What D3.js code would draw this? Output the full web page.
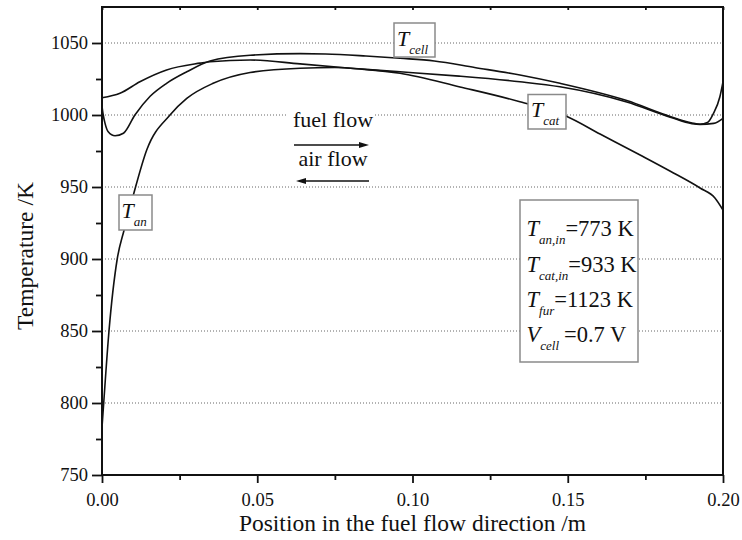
<!DOCTYPE html>
<html>
<head>
<meta charset="utf-8">
<script src="https://cdn.jsdelivr.net/npm/d3@7"></script>
<style>
  html, body { margin: 0; padding: 0; background: #fff; }
  svg { display: block; }
  text { font-family: "Liberation Serif", "Times New Roman", serif; fill: #111; }
</style>
</head>
<body>
<svg id="chart" width="742" height="540"></svg>
<script>
// Temperature profiles along the cell (position in m, temperature in K)
const posCell = [0, 0.0004, 0.001, 0.002, 0.0042, 0.0069, 0.0106, 0.0155, 0.0208, 0.0273, 0.0348, 0.0477, 0.0638, 0.072, 0.085, 0.096, 0.107, 0.12, 0.1346, 0.1475, 0.169, 0.183, 0.19, 0.1926, 0.195, 0.1969, 0.199, 0.2];
const tCell   = [1006, 1000, 994, 988.4, 985.6, 987.3, 1000, 1013, 1022, 1030, 1037.5, 1041.5, 1042.6, 1042.4, 1041, 1039.4, 1037.5, 1033, 1027.8, 1022, 1010, 999, 994.5, 993.6, 994.8, 1001, 1012.7, 1023];

const posCat = [0, 0.0058, 0.0122, 0.0208, 0.0316, 0.0348, 0.0477, 0.0638, 0.08, 0.096, 0.1153, 0.1346, 0.1494, 0.1604, 0.1733, 0.1829, 0.1926, 0.1974, 0.2];
const tCat   = [1012, 1015.1, 1023.1, 1031.3, 1036, 1037, 1038.2, 1035.5, 1032.5, 1029, 1019.5, 1009.2, 999.3, 986.8, 972.2, 961.1, 949.3, 942.4, 934];

const posAn = [0, 0.00055, 0.00225, 0.0049, 0.0071, 0.0101, 0.0144, 0.0219, 0.0273, 0.0358, 0.0477, 0.0638, 0.075, 0.086, 0.096, 0.115, 0.1346, 0.1475, 0.169, 0.183, 0.19, 0.1926, 0.197, 0.2];
const tAn   = [783, 800, 850, 900, 920, 944.4, 975.7, 1000, 1011.5, 1022, 1029.5, 1032.5, 1033, 1031.5, 1030, 1027, 1023.1, 1019.6, 1009, 998.5, 994, 993.5, 994.2, 997.7];

// Axis ticks
const xMajor = [0, 0.05, 0.10, 0.15, 0.20];
const xMinor = [0.025, 0.075, 0.125, 0.175];
const yMajor = [750, 800, 850, 900, 950, 1000, 1050];
const yMinor = [775, 825, 875, 925, 975, 1025];
const gridValues = [800, 850, 900, 950, 1000, 1050];

// Operating conditions listed in the box
const condSymbols = ["T", "T", "T", "V"];
const condSubs    = ["an,in", "cat,in", "fur", "cell"];
const condValues  = ["=773 K", "=933 K", "=1123 K", "=0.7 V"];

const svg = d3.select("#chart");
const margin = {left: 102, top: 7, right: 19, bottom: 65};
const W = 742 - margin.left - margin.right;
const H = 540 - margin.top - margin.bottom;

const x = d3.scaleLinear().domain([0, 0.2]).range([0, W]);
const y = d3.scaleLinear().domain([750, 1075]).range([H, 0]);

const g = svg.append("g").attr("transform", `translate(${margin.left},${margin.top})`);

// dotted horizontal grid
g.append("g").selectAll("line").data(gridValues).join("line")
  .attr("x1", 0).attr("x2", W)
  .attr("y1", d => y(d)).attr("y2", d => y(d))
  .attr("stroke", "#666").attr("stroke-width", 1)
  .attr("stroke-dasharray", "1,2");

// curves
const line = (px, py) => d3.line()
  .x((d, i) => x(px[i])).y(d => y(d))
  .curve(d3.curveMonotoneX)(py);

[[posCat, tCat], [posAn, tAn], [posCell, tCell]].forEach(([px, py]) => {
  g.append("path")
    .attr("d", line(px, py))
    .attr("fill", "none").attr("stroke", "#111")
    .attr("stroke-width", 1.6);
});

// axes
const yAxis = g.append("g").call(d3.axisLeft(y).tickValues(yMajor).tickSize(10).tickPadding(4).tickFormat(d3.format("d")));
const yAxisMinor = g.append("g").call(d3.axisLeft(y).tickValues(yMinor).tickSize(6).tickFormat(""));
const xAxis = g.append("g").attr("transform", `translate(0,${H})`)
  .call(d3.axisBottom(x).tickValues(xMajor).tickSize(8).tickPadding(10).tickFormat(d3.format(".2f")));
const xAxisMinor = g.append("g").attr("transform", `translate(0,${H})`)
  .call(d3.axisBottom(x).tickValues(xMinor).tickSize(5).tickFormat(""));
const xAxisTop = g.append("g")
  .call(d3.axisBottom(x).tickValues(xMajor.concat(xMinor)).tickSize(3).tickFormat(""));

[yAxis, yAxisMinor, xAxis, xAxisMinor, xAxisTop].forEach(a => {
  a.select(".domain").remove();
  a.selectAll(".tick line").attr("stroke", "#111").attr("stroke-width", 1.8);
  a.selectAll(".tick text").style("font-family", '"Liberation Serif", "Times New Roman", serif')
    .style("font-size", "18.5px").attr("fill", "#111");
});

// frame
g.append("rect").attr("x", 0).attr("y", 0).attr("width", W).attr("height", H)
  .attr("fill", "none").attr("stroke", "#111").attr("stroke-width", 2);

// axis titles
svg.append("text")
  .attr("x", margin.left + W / 2).attr("y", 531)
  .attr("text-anchor", "middle").style("font-size", "23.5px")
  .text("Position in the fuel flow direction /m");
svg.append("text")
  .attr("transform", "translate(33,256) rotate(-90)")
  .attr("text-anchor", "middle").style("font-size", "23.5px")
  .text("Temperature /K");

// symbol with subscript
function symbolText(parent, px, py, sym, sub, rest, restDx, size) {
  const t = parent.append("text").attr("x", px).attr("y", py).style("font-size", (size || 22) + "px");
  t.append("tspan").style("font-style", "italic").text(sym);
  t.append("tspan").style("font-style", "italic").style("font-size", "13px")
    .attr("dy", 8).text(sub);
  if (rest) t.append("tspan").attr("dx", restDx || 0).attr("dy", -8).text(rest);
  return t;
}

function labelBox(x0, y0, x1, y1) {
  svg.append("rect").attr("x", x0).attr("y", y0).attr("width", x1 - x0).attr("height", y1 - y0)
    .attr("fill", "#fff").attr("stroke", "#8a8a8a").attr("stroke-width", 1.5);
}

// curve labels
labelBox(394, 23, 435, 57);
symbolText(svg, 397, 45.5, "T", "cell");
labelBox(528, 94.5, 566, 129);
symbolText(svg, 531, 116.5, "T", "cat");
labelBox(119, 195, 152, 230);
symbolText(svg, 121.5, 218, "T", "an");

// conditions box
labelBox(520, 200, 638, 362);
const condBase = [235.5, 271.5, 307, 342];
const condGap = [0, 0, 0, 5];
condSymbols.forEach((s, i) => {
  symbolText(svg, 526.5, condBase[i], s, condSubs[i], condValues[i], condGap[i], 22.5);
});

// flow direction annotation
svg.append("rect").attr("x", 288).attr("y", 108).attr("width", 86).attr("height", 22).attr("fill", "#fff");
svg.append("text").attr("x", 333).attr("y", 127).attr("text-anchor", "middle")
  .style("font-size", "22px").text("fuel flow");
svg.append("text").attr("x", 333).attr("y", 166).attr("text-anchor", "middle")
  .style("font-size", "22px").text("air flow");

function arrow(xa, xb, yy) {
  // shaft from xa to xb, filled head at xb
  const dir = Math.sign(xb - xa);
  svg.append("line").attr("x1", xa).attr("x2", xb - dir * 6).attr("y1", yy).attr("y2", yy)
    .attr("stroke", "#111").attr("stroke-width", 1.4);
  svg.append("path")
    .attr("d", `M${xb},${yy} L${xb - dir * 10},${yy - 3} L${xb - dir * 10},${yy + 3} Z`)
    .attr("fill", "#111");
}
arrow(294, 369, 145);
arrow(369, 296, 181);
</script>
</body>
</html>
